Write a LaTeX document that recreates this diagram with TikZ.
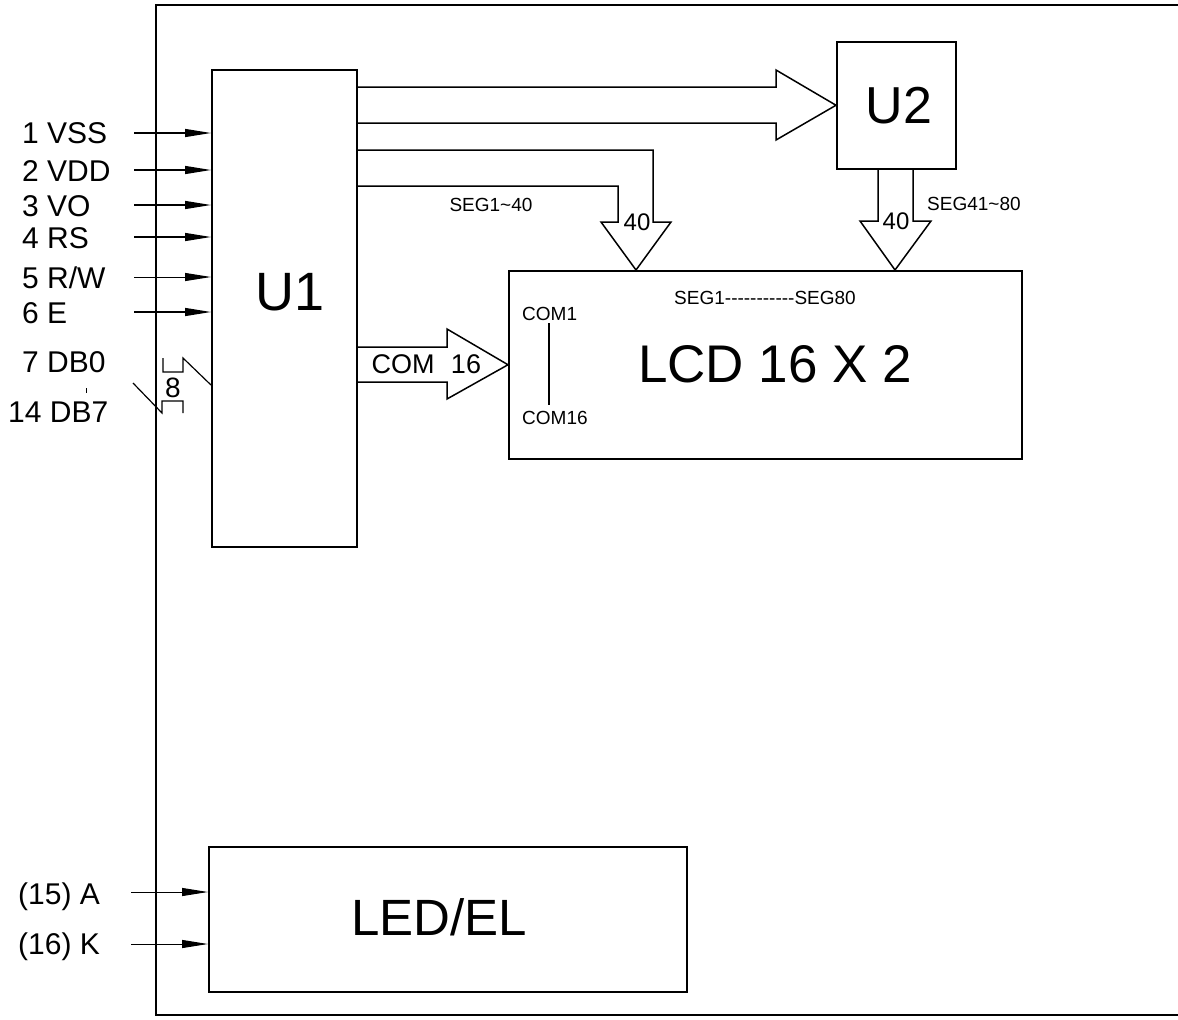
\documentclass[tikz,border=0pt]{standalone}
\usepackage{fontspec}
\setmainfont{Liberation Sans}
\usetikzlibrary{arrows.meta}
\newcommand\fsz[1]{\fontsize{#1}{#1}\selectfont}
\newcommand\mydashes{-{}-{}-{}-{}-{}-{}-{}-{}-{}-{}-}
\begin{document}
\begin{tikzpicture}[x=1pt,y=-1pt,line join=miter,
  box/.style={draw,line width=1.5pt,inner sep=0pt,anchor=north west},
  pinlbl/.style={inner sep=0pt,anchor=base west,font=\fsz{30}},
  biglbl/.style={inner sep=0pt,anchor=base},
  smalllbl/.style={inner sep=0pt,font=\fsz{19}},
  inarrow/.style={line width=1.3pt,-{Triangle[length=26pt,width=8pt]}},
  busline/.style={line width=1.5pt},
  thinline/.style={line width=1.2pt}]
\useasboundingbox (0,0) rectangle (1178,1020);
% outer frame
\draw[busline] (1178,5) -- (156,5) -- (156,1015) -- (1178,1015);
% boxes
\node[box,minimum width=145pt,minimum height=477pt] (U1) at (211,69) {};
\node[box,minimum width=119pt,minimum height=127pt] (U2) at (836,41) {};
\node[box,minimum width=513pt,minimum height=188pt] (LCD) at (508,270) {};
\node[box,minimum width=478pt,minimum height=145pt] (LED) at (208,846) {};
\node[biglbl,font=\fsz{54}] (U1t) at (290,310.5) {U1};
\node[biglbl,font=\fsz{52}] (U2t) at (899,123) {U2};
\node[biglbl,font=\fsz{53}] (LCDt) at (775,382) {LCD 16 X 2};
\node[biglbl,font=\fsz{51}] (LEDt) at (439,935) {LED/EL};
% input pins
\node[pinlbl] (p1) at (22,143) {1 VSS};
\node[pinlbl] (p2) at (22,181) {2 VDD};
\node[pinlbl] (p3) at (22,216) {3 VO};
\node[pinlbl] (p4) at (22,248) {4 RS};
\node[pinlbl] (p5) at (22,288) {5 R/W};
\node[pinlbl] (p6) at (22,323) {6 E};
\node[pinlbl] (p7) at (22,372) {7 DB0};
\node[pinlbl] (p14) at (8,422) {14 DB7};
\node[pinlbl] (p15) at (18,904) {(15) A};
\node[pinlbl] (p16) at (18,954) {(16) K};
\coordinate (a1) at (134,133);
\coordinate (a2) at (134,170);
\coordinate (a3) at (134,205);
\coordinate (a4) at (134,237);
\coordinate (a5) at (134,277);
\coordinate (a6) at (134,312);
\coordinate (a15) at (131,892);
\coordinate (a16) at (131,944);
\foreach \a in {a1,a2,a3,a4,a6}{
  \draw[inarrow] (\a) -- (\a -| U1.west);
}
\draw[inarrow,line width=1pt] (a5) -- (a5 -| U1.west);
\foreach \a in {a15,a16}{
  \draw[inarrow,line width=1pt] (\a) -- (\a -| LED.west);
}
% data bus symbol
\coordinate (b0) at (133,383);
\coordinate (b1) at (211,385);
\draw[thinline] (b0) -- (162,413) -- (162,401) -- (183,401) -- (183,413);
\draw[thinline] (163,358) -- (163,372) -- (183,372) -- (183,358) -- (b1 -| U1.west);
\node[biglbl,font=\fsz{28}] (eight) at (173,397) {8};
\draw[line width=0.8pt] (86,388) -- (86,393);
% top hollow arrow U1 -> U2
\draw[busline] ([yshift=-18pt]U1.north east) -- (776,87) -- (776,70) -- (U2.west) -- (776,140) -- (776,123) -- ([yshift=-54pt]U1.north east);
% SEG1~40 arrow
\draw[busline] ([yshift=-81pt]U1.north east) -- (653,150) -- (653,222) -- (671,222) -- ([xshift=128pt]LCD.north west) -- (601,222) -- (618,222) -- (618,186) -- ([yshift=-117pt]U1.north east);
\node[biglbl,font=\fsz{24}] (n40a) at (637,230.5) {40};
\node[smalllbl,anchor=base] (seg140) at (491,211) {SEG1\textasciitilde40};
% SEG41~80 arrow
\draw[busline] (U2.south -| 878,0) -- (878,221) -- (860,221) -- ([xshift=387pt]LCD.north west) -- (931,221) -- (913,221) -- (U2.south -| 913,0);
\node[biglbl,font=\fsz{24}] (n40b) at (896,229.5) {40};
\node[smalllbl,anchor=base west] (seg4180) at (927,210) {SEG41\textasciitilde80};
% COM arrow
\draw[busline] ([yshift=-278pt]U1.north east) -- (447,347) -- (447,329) -- (LCD.west) -- (447,399) -- (447,382) -- ([yshift=-313pt]U1.north east);
\node[biglbl,font=\fsz{27}] (comt) at (403,373) {COM};
\node[biglbl,font=\fsz{27}] (c16) at (466,373) {16};
% LCD inner labels
\node[smalllbl,anchor=base] (segall) at (765,304) {SEG1\mydashes SEG80};
\node[smalllbl,anchor=base west] (com1) at (522,320) {COM1};
\node[smalllbl,anchor=base west] (com16) at (522,424) {COM16};
\draw[thinline] (549,323) -- (549,405);
\end{tikzpicture}
\end{document}
